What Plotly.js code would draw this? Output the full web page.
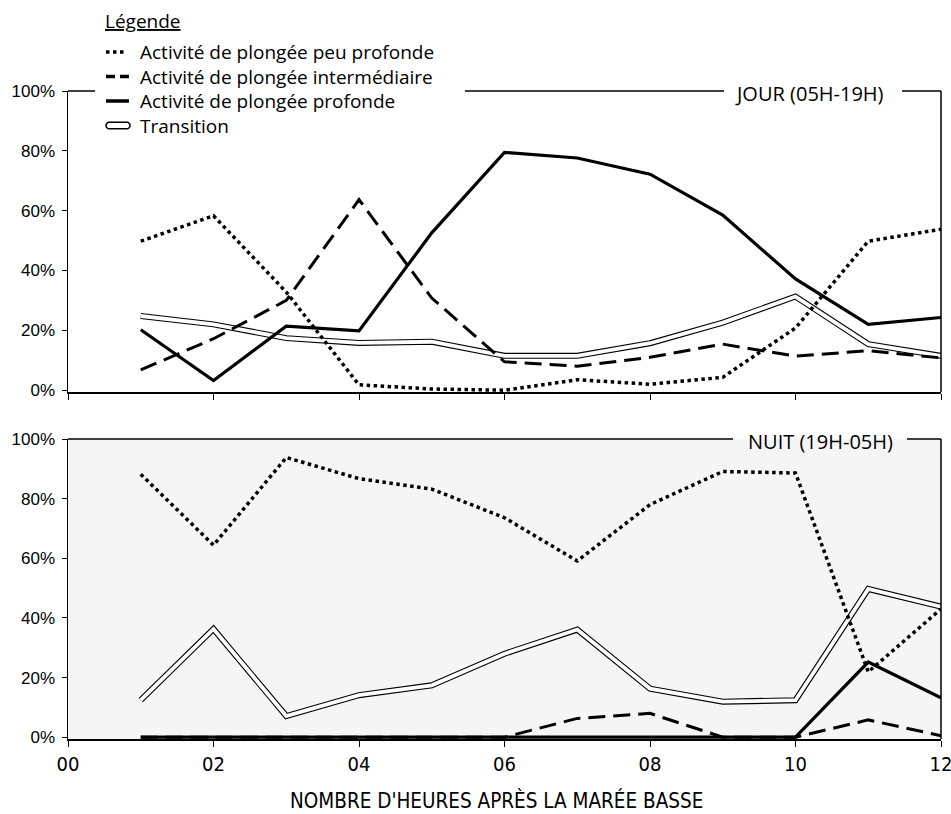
<!DOCTYPE html>
<html>
<head>
<meta charset="utf-8">
<script src="https://cdn.plot.ly/plotly-3.0.1.min.js"></script>
<style>html,body{margin:0;padding:0;background:#fff;}#chart{width:951px;height:814px;}</style>
</head>
<body>
<div id="chart"></div>
<script>
// ---- Data (percentages) ----
const hours = [1, 2, 3, 4, 5, 6, 7, 8, 9, 10, 11, 12];
const xTickVals = [0, 2, 4, 6, 8, 10, 12];
const xTickText = ["00", "02", "04", "06", "08", "10", "12"];
const yTickVals = [0, 20, 40, 60, 80, 100];
const yTickText = ["0%", "20%", "40%", "60%", "80%", "100%"];

const seriesNames = [
  "Activité de plongée peu profonde",
  "Activité de plongée intermédiaire",
  "Activité de plongée profonde",
  "Transition"
];
const panelTitles = ["JOUR (05H-19H)", "NUIT (19H-05H)"];
const xTitle = "NOMBRE D'HEURES APRÈS LA MARÉE BASSE";

// JOUR (05H-19H)
const dayShallow = [49.8, 58.3, 32.8, 1.8, 0.4, 0, 3.5, 2, 4.3, 20.8, 49.8, 53.8];
const dayInter   = [6.8, 17.2, 30, 63.7, 30.8, 9.5, 8, 11, 15.4, 11.4, 13.2, 10.8];
const dayDeep    = [20.2, 3.2, 21.4, 19.8, 52.6, 79.5, 77.6, 72.2, 58.5, 37.2, 22, 24.3];
const dayTrans   = [24.8, 22, 17.4, 15.8, 16.2, 11.5, 11.5, 15.7, 22.6, 31.3, 15.4, 11.5];

// NUIT (19H-05H)
const nightShallow = [88.2, 64.4, 93.8, 86.7, 83.2, 73.6, 59.1, 78, 89.1, 88.6, 21.9, 43];
const nightInter   = [0, 0, 0, 0, 0, 0, 6.3, 8, 0, 0, 5.8, 0.5];
const nightDeep    = [0, 0, 0, 0, 0, 0, 0, 0, 0, 0, 25.2, 13.2];
const nightTrans   = [12.4, 36.3, 7.1, 14.1, 17.4, 28, 36.1, 16.3, 11.9, 12.4, 49.7, 43.8];

// ---- Layout helpers (pixel -> paper) ----
const W = 951, H = 814;
const L = 68, R = 941, T = 91, B = 739;
const px = v => (v - L) / (R - L);
const py = v => (B - v) / (B - T);

const dotDash = "3.5px,3.5px";
const longDash = "17px,8px";

function tracesFor(shallow, inter, deep, trans, xa, ya) {
  return [
    {x: hours, y: trans, xaxis: xa, yaxis: ya, mode: "lines", line: {color: "#000", width: 6}, hoverinfo: "skip", showlegend: false},
    {x: hours, y: trans, xaxis: xa, yaxis: ya, mode: "lines", line: {color: "#fff", width: 3.8}, name: seriesNames[3], showlegend: false},
    {x: hours, y: inter, xaxis: xa, yaxis: ya, mode: "lines", line: {color: "#000", width: 3, dash: longDash}, name: seriesNames[1], showlegend: false},
    {x: hours, y: deep, xaxis: xa, yaxis: ya, mode: "lines", line: {color: "#000", width: 3.2}, name: seriesNames[2], showlegend: false},
    {x: hours, y: shallow, xaxis: xa, yaxis: ya, mode: "lines", line: {color: "#000", width: 3.5, dash: dotDash}, name: seriesNames[0], showlegend: false}
  ];
}

const data = [].concat(
  tracesFor(dayShallow, dayInter, dayDeep, dayTrans, "x", "y"),
  tracesFor(nightShallow, nightInter, nightDeep, nightTrans, "x2", "y2")
);

const tickFontY = {family: "Liberation Sans, Arial, sans-serif", size: 17, color: "#000"};
const condFamily = "DejaVu Sans Condensed, Liberation Sans Narrow, sans-serif";
const tickFontX = {family: condFamily, size: 20, color: "#000"};
const labelFont = {family: "Open Sans, Noto Sans, sans-serif", size: 19, color: "#000"};

const yCommon = {
  range: [-0.6, 100], tickvals: yTickVals, ticktext: yTickText, ticks: "outside", ticklen: 5,
  tickcolor: "#000", showline: true, linecolor: "#000", linewidth: 1.5, showgrid: false,
  zeroline: false, tickfont: tickFontY, fixedrange: true, ticklabeloverflow: "allow",
  ticklabelstandoff: 3
};
const xCommon = {
  range: [0, 12], tickvals: xTickVals, ticktext: xTickText, ticks: "outside", ticklen: 6,
  tickcolor: "#000", showline: true, linecolor: "#000", linewidth: 1.5, showgrid: false,
  zeroline: false, tickfont: tickFontX, fixedrange: true, ticklabeloverflow: "allow"
};

const yTopLow = py(392), yBotHigh = py(439);

function hline(x0p, x1p, yp) {
  return {type: "line", xref: "paper", yref: "paper", x0: px(x0p), x1: px(x1p), y0: py(yp), y1: py(yp), line: {color: "#000", width: 1.5}};
}
function vline(xp, y0p, y1p) {
  return {type: "line", xref: "paper", yref: "paper", x0: px(xp), x1: px(xp), y0: py(y0p), y1: py(y1p), line: {color: "#000", width: 1.5}};
}

// rounded legend swatch for the double line (pixel path around an anchor)
function pillPath(len, r) {
  const pts = [];
  for (let a = 90; a <= 270; a += 15) {
    const t = a * Math.PI / 180;
    pts.push([r + r * Math.cos(t), r * Math.sin(t)]);
  }
  for (let a = -90; a <= 90; a += 15) {
    const t = a * Math.PI / 180;
    pts.push([len - r + r * Math.cos(t), r * Math.sin(t)]);
  }
  return "M " + pts.map(p => p[0].toFixed(2) + "," + p[1].toFixed(2)).join(" L ") + " Z";
}

const rowsY = [52, 76.5, 101, 125.5];

const shapes = [
  {type: "rect", xref: "paper", yref: "paper", x0: 0, x1: 1, y0: 0, y1: yBotHigh, fillcolor: "#f5f5f5", line: {width: 0}, layer: "below"},
  hline(L, 95, T), hline(465, 724, T), hline(902, R, T), vline(R, 392, T),
  hline(L, 733, 439), hline(907, R, 439), vline(R, B, 439),
  {type: "line", xref: "paper", yref: "paper", x0: px(106), x1: px(125), y0: py(rowsY[0]), y1: py(rowsY[0]), line: {color: "#000", width: 3.5, dash: "3.5px,3.5px"}},
  {type: "line", xref: "paper", yref: "paper", x0: px(106), x1: px(129), y0: py(rowsY[1]), y1: py(rowsY[1]), line: {color: "#000", width: 3.5, dash: "9px,5px"}},
  {type: "line", xref: "paper", yref: "paper", x0: px(106), x1: px(129), y0: py(rowsY[2]), y1: py(rowsY[2]), line: {color: "#000", width: 3.5}},
  {type: "path", xref: "paper", yref: "paper", xsizemode: "pixel", ysizemode: "pixel",
   xanchor: px(106), yanchor: py(rowsY[3]), path: pillPath(24, 3.3),
   fillcolor: "#fff", line: {color: "#000", width: 1.5}}
];

const annotations = [
  {xref: "paper", yref: "paper", x: px(809), y: py(93), text: panelTitles[0], showarrow: false, xanchor: "center", yanchor: "middle", font: {family: "Open Sans, sans-serif", size: 20, color: "#000"}},
  {xref: "paper", yref: "paper", x: px(820), y: py(441), text: panelTitles[1], showarrow: false, xanchor: "center", yanchor: "middle", font: {family: "Open Sans, sans-serif", size: 20, color: "#000"}},
  {xref: "paper", yref: "paper", x: px(103), y: py(21), text: "<u>Légende</u>", showarrow: false, xanchor: "left", yanchor: "middle", font: labelFont},
  {xref: "paper", yref: "paper", x: px(496), y: py(800), text: xTitle, showarrow: false, xanchor: "center", yanchor: "middle", font: {family: condFamily, size: 20.5, color: "#000"}},
  // legend entries as one multi-line text block
  {xref: "paper", yref: "paper", x: px(138), y: py((rowsY[0] + rowsY[3]) / 2), text: seriesNames.join("<br>"), showarrow: false, xanchor: "left", yanchor: "middle", align: "left", font: labelFont}
];

const layout = {
  width: W, height: H,
  margin: {l: L, r: W - R, t: T, b: H - B, pad: 0},
  paper_bgcolor: "#fff", plot_bgcolor: "rgba(0,0,0,0)",
  showlegend: false,
  xaxis: Object.assign({}, xCommon, {anchor: "y", showticklabels: false, domain: [0, 1]}),
  yaxis: Object.assign({}, yCommon, {domain: [yTopLow, 1], anchor: "x"}),
  xaxis2: Object.assign({}, xCommon, {anchor: "y2", domain: [0, 1]}),
  yaxis2: Object.assign({}, yCommon, {domain: [0, yBotHigh], anchor: "x2"}),
  shapes: shapes,
  annotations: annotations
};

Plotly.newPlot("chart", data, layout, {displayModeBar: false, staticPlot: true});
</script>
</body>
</html>
